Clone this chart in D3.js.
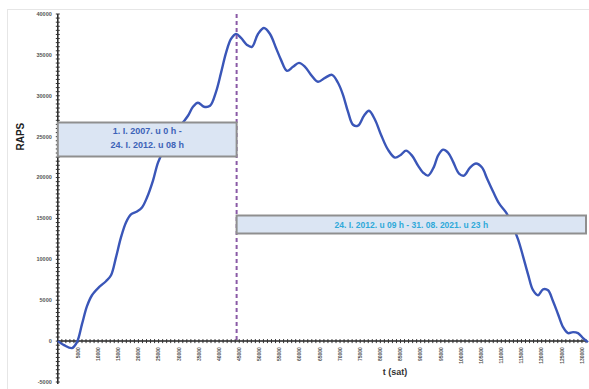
<!DOCTYPE html>
<html>
<head>
<meta charset="utf-8">
<script src="https://cdn.jsdelivr.net/npm/d3@7"></script>
<style>
  html, body { margin: 0; padding: 0; background: #fff; }
  svg { display: block; font-family: "Liberation Sans", Arial, sans-serif; }
</style>
</head>
<body>
<svg id="chart" width="589" height="389"></svg>
<script>
// RAPS (rescaled adjusted partial sums) against time in hours
const hours = [0, 1540, 3520, 4760, 6000, 7240, 8480, 10220, 11950, 13200, 14430, 15670, 16910, 18150,
  19640, 20880, 22120, 23610, 24850, 26340, 27830, 29320, 30800, 32290, 33530, 34770, 36260, 37750,
  39240, 40480, 41720, 42960, 44200, 45440, 46920, 48160, 49650, 51140, 52630, 54120, 55360, 56840,
  58330, 59820, 61310, 62800, 64530, 66270, 68000, 69490, 70730, 71970, 73210, 74450, 75940, 77180,
  78670, 80160, 81890, 83630, 85120, 86360, 87850, 89340, 90580, 91820, 93310, 94300, 95540, 96780,
  98020, 99510, 100750, 102240, 103730, 105220, 106460, 107950, 109440, 111170, 112660, 114150,
  115390, 116630, 117870, 119110, 120350, 121590, 122830, 124070, 125310, 126550, 127790, 129030,
  130270, 131510];
const raps = [0, -490, -850, -120, 2070, 4270, 5610, 6590, 7320, 8050, 10240, 12680, 14510, 15490,
  15850, 16340, 17560, 19630, 21830, 23410, 24630, 25610, 26590, 27560, 28660, 29150, 28660, 28780,
  30490, 32800, 35240, 36950, 37560, 37070, 36220, 35980, 37560, 38290, 37560, 35850, 34390, 33050,
  33540, 34020, 33540, 32560, 31710, 32190, 32560, 31590, 30120, 28050, 26460, 26340, 27560, 28170,
  27070, 25240, 23410, 22440, 22800, 23290, 22680, 21460, 20610, 20240, 21340, 22680, 23410, 23050,
  21950, 20490, 20240, 21220, 21710, 21220, 19880, 18290, 16830, 15730, 14270, 12440,
  10370, 8170, 6220, 5610, 6340, 6220, 4880, 3290, 1710, 980, 1100, 980,
  370, -120];

const yTicks = [-5000, 0, 5000, 10000, 15000, 20000, 25000, 30000, 35000, 40000];
const xTicks = d3.range(5000, 130001, 5000);

// Break between the two sub-periods (24. I. 2012. u 08 h)
const breakHour = 44350;
const periodLabels = [
  ["1. I. 2007. u 0 h -", "24. I. 2012. u 08 h"],
  ["24. I. 2012. u 09 h - 31. 08. 2021. u 23 h"]
];

const svg = d3.select("#chart");

const x = d3.scaleLinear().domain([0, 131500]).range([57.8, 588]);
const y = d3.scaleLinear().domain([-5000, 40000]).range([382, 14]);

// faint outer frame
svg.append("rect")
  .attr("x", 7.5).attr("y", 9.5).attr("width", 590).attr("height", 390)
  .attr("fill", "none").attr("stroke", "#e6e6e6").attr("stroke-width", 1);

// y axis: line, minor ticks every 500, labels every 5000
const yAxisG = svg.append("g").attr("transform", `translate(${x(0)},0)`);
yAxisG.append("line")
  .attr("x1", 0).attr("x2", 0).attr("y1", y(40000)).attr("y2", y(-5000) + 2)
  .attr("stroke", "#222").attr("stroke-width", 1.5);
yAxisG.selectAll("line.minor")
  .data(d3.range(-5000, 40001, 500))
  .join("line").attr("class", "minor")
  .attr("x1", -2).attr("x2", 2)
  .attr("y1", d => y(d)).attr("y2", d => y(d))
  .attr("stroke", "#333").attr("stroke-width", 1);
yAxisG.selectAll("text")
  .data(yTicks)
  .join("text")
  .attr("x", -6).attr("y", d => y(d))
  .attr("dy", "0.35em")
  .attr("text-anchor", "end")
  .attr("font-size", 5.5)
  .attr("font-weight", "bold")
  .attr("fill", "#555")
  .text(d => d);

// x axis: line at zero, minor ticks every 1000 h, rotated labels
const xAxisG = svg.append("g").attr("transform", `translate(0,${y(0)})`);
xAxisG.append("line")
  .attr("x1", x(0)).attr("x2", x(131200)).attr("y1", 0).attr("y2", 0)
  .attr("stroke", "#222").attr("stroke-width", 1.5);
xAxisG.selectAll("line.minor")
  .data(d3.range(1000, 131001, 1000))
  .join("line").attr("class", "minor")
  .attr("x1", d => x(d)).attr("x2", d => x(d))
  .attr("y1", -2).attr("y2", 2)
  .attr("stroke", "#333").attr("stroke-width", 1);
xAxisG.selectAll("text")
  .data(xTicks)
  .join("text")
  .attr("transform", d => `translate(${x(d)},6) rotate(-90)`)
  .attr("dy", "0.35em")
  .attr("text-anchor", "end")
  .attr("font-size", 5)
  .attr("font-weight", "bold")
  .attr("fill", "#555")
  .text(d => d);

// RAPS curve
const line = d3.line()
  .x((d, i) => x(hours[i]))
  .y(d => y(d))
  .curve(d3.curveCatmullRom.alpha(0.5));
svg.append("path")
  .datum(raps)
  .attr("d", line)
  .attr("fill", "none")
  .attr("stroke", "#3a56b8")
  .attr("stroke-width", 2.4)
  .attr("stroke-linejoin", "round");

// dashed separator at the break
svg.append("line")
  .attr("x1", x(breakHour)).attr("x2", x(breakHour))
  .attr("y1", y(40000)).attr("y2", y(0))
  .attr("stroke", "#8a5aa6")
  .attr("stroke-width", 2)
  .attr("stroke-dasharray", "4,3");

// period label boxes
const box1x0 = x(0), box1x1 = x(breakHour);
svg.append("rect")
  .attr("x", box1x0).attr("y", 122.5)
  .attr("width", box1x1 - box1x0).attr("height", 34)
  .attr("fill", "#dbe5f3").attr("stroke", "#8f8f8f").attr("stroke-width", 2);
svg.append("g").selectAll("text")
  .data(periodLabels[0])
  .join("text")
  .attr("x", (box1x0 + box1x1) / 2)
  .attr("y", (d, i) => 134 + i * 14)
  .attr("text-anchor", "middle")
  .attr("font-size", 9)
  .attr("font-weight", "bold")
  .attr("fill", "#3d63b8")
  .text(d => d);

const box2x0 = x(breakHour), box2x1 = 586;
svg.append("rect")
  .attr("x", box2x0).attr("y", 215.5)
  .attr("width", box2x1 - box2x0).attr("height", 18)
  .attr("fill", "#dbe5f3").attr("stroke", "#8f8f8f").attr("stroke-width", 2);
svg.append("text")
  .attr("x", (box2x0 + box2x1) / 2)
  .attr("y", 227.5)
  .attr("text-anchor", "middle")
  .attr("font-size", 8.5)
  .attr("font-weight", "bold")
  .attr("fill", "#2fa9d9")
  .text(periodLabels[1][0]);

// axis titles
svg.append("text")
  .attr("transform", `translate(24,${y(25000)}) rotate(-90)`)
  .attr("text-anchor", "middle")
  .attr("font-size", 10)
  .attr("font-weight", "bold")
  .attr("fill", "#222")
  .text("RAPS");
svg.append("text")
  .attr("x", 395).attr("y", 375)
  .attr("text-anchor", "middle")
  .attr("font-size", 9)
  .attr("font-weight", "bold")
  .attr("fill", "#333")
  .text("t (sat)");
</script>
</body>
</html>
